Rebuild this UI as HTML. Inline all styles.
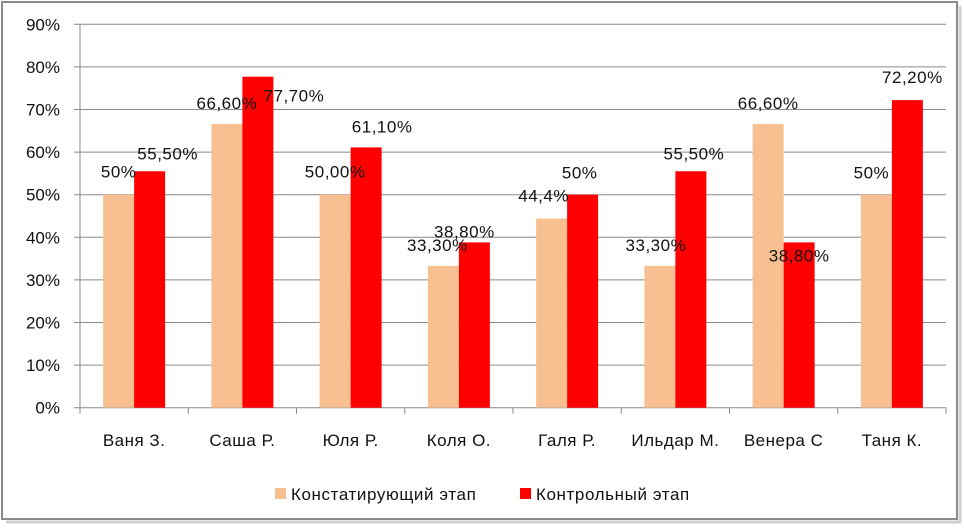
<!DOCTYPE html>
<html><head><meta charset="utf-8">
<style>
html,body{margin:0;padding:0;background:#fff;}
svg text{font-family:"Liberation Sans","DejaVu Sans",sans-serif;}
</style></head>
<body>
<svg id="chart" width="964" height="526" viewBox="0 0 964 526" xmlns="http://www.w3.org/2000/svg">
  <rect x="2" y="2" width="955" height="517" fill="#fff" stroke="#8a8a8a" stroke-width="2"/>
  <line x1="6" y1="522" x2="961" y2="522" stroke="#d0d0d0" stroke-width="3"/>
  <line x1="960" y1="6" x2="960" y2="522" stroke="#d0d0d0" stroke-width="3"/>
  <g id="grid"></g>
  <g id="bars"></g>
  <g id="labels"></g>
  <g id="legend">
    <rect x="275" y="488" width="11" height="11" fill="#F8C090"/>
    <text x="291" y="500" font-size="17" letter-spacing="0.6" fill="#111">Констатирующий этап</text>
    <rect x="520" y="488" width="11" height="11" fill="#FF0000"/>
    <text x="536" y="500" font-size="17" letter-spacing="0.6" fill="#111">Контрольный этап</text>
  </g>
</svg>
<script>
const categories = ["Ваня З.","Саша Р.","Юля Р.","Коля О.","Галя Р.","Ильдар М.","Венера С","Таня К."];
const stage1 = [50, 66.6, 50, 33.3, 44.4, 33.3, 66.6, 50];
const stage2 = [55.5, 77.7, 61.1, 38.8, 50, 55.5, 38.8, 72.2];
const stage1Labels = ["50%","66,60%","50,00%","33,30%","44,4%","33,30%","66,60%","50%"];
const stage2Labels = ["55,50%","77,70%","61,10%","38,80%","50%","55,50%","38,80%","72,20%"];
const yTicks = [0,10,20,30,40,50,60,70,80,90];
const yTickLabels = ["0%","10%","20%","30%","40%","50%","60%","70%","80%","90%"];

const NS="http://www.w3.org/2000/svg";
const X0=80, X1=946, Y0=407.7, PX=4.26, BW=31;
const band=(X1-X0)/categories.length;
const y=v=>Y0-v*PX;
const xc=i=>X0+band*(i+0.5);
// label offsets (styling only)
const d1x=[0,0,0,-6,-8,-4,0,-5], d1y=[-23,-21,-23,-21,-23,-21,-21,-22];
const d2x=[18,36,16,-10,-3,3,0,5], d2y=[-18,19,-21,-11,-22,-18,13,-23];
function el(t,a,p){const e=document.createElementNS(NS,t);for(const k in a)e.setAttribute(k,a[k]);p.appendChild(e);return e;}
const grid=document.getElementById('grid'),bars=document.getElementById('bars'),labels=document.getElementById('labels');
yTicks.forEach((t,i)=>{
  const l=el('line',{x1:X0-6,x2:X1,y1:y(t),y2:y(t),stroke:'#8a8a8a','stroke-width':1},grid);
  
  
  const tx=el('text',{x:X0-20,y:y(t)+6,'text-anchor':'end','font-size':17,fill:'#111'},grid);
  tx.textContent=yTickLabels[i];
  
  
});
const ax=el('line',{x1:X0,x2:X0,y1:y(90),y2:Y0,stroke:'#8a8a8a','stroke-width':1},grid);


for(let i=0;i<=categories.length;i++){
  const tk=el('line',{x1:X0+band*i,x2:X0+band*i,y1:Y0,y2:Y0+6,stroke:'#8a8a8a'},grid);
  
  
}
categories.forEach((c,i)=>{
  const cx=xc(i);
  const b1=el('rect',{x:cx-BW,y:y(stage1[i]),width:BW,height:Y0-y(stage1[i]),fill:'#F8C090'},bars);
  
  
  const b2=el('rect',{x:cx,y:y(stage2[i]),width:BW,height:Y0-y(stage2[i]),fill:'#FF0000'},bars);
  
  
  const t1=el('text',{x:cx-BW/2+d1x[i],y:y(stage1[i])+d1y[i]+6,'text-anchor':'middle','font-size':17,'letter-spacing':0.5,fill:'#111'},labels);
  t1.textContent=stage1Labels[i];
  
  
  const t2=el('text',{x:cx+BW/2+d2x[i],y:y(stage2[i])+d2y[i]+6,'text-anchor':'middle','font-size':17,'letter-spacing':0.5,fill:'#111'},labels);
  t2.textContent=stage2Labels[i];
  
  
  const ct=el('text',{x:cx,y:446,'text-anchor':'middle','font-size':17,'letter-spacing':0.5,fill:'#111'},labels);
  ct.textContent=c;
  
  
});
</script>
</body></html>
